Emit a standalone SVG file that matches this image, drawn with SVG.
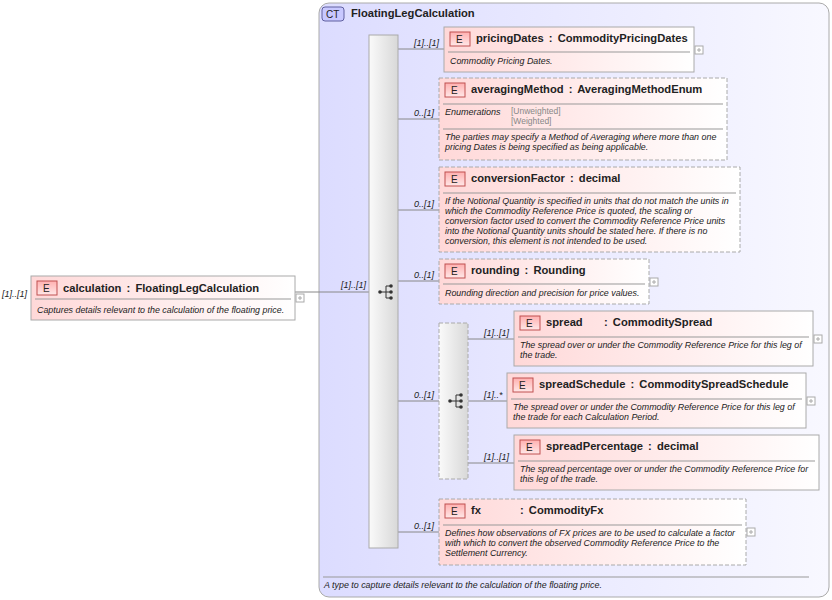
<svg xmlns="http://www.w3.org/2000/svg" width="832" height="600" viewBox="0 0 832 600">
<style>
text{font-family:"Liberation Sans",Arial,sans-serif;fill:#222}
.t{font-size:11.2px;font-weight:bold;word-spacing:2px}
.d{font-size:8.9px;font-style:italic}
.m{font-size:9px;font-style:italic}
.en{font-size:8.5px;fill:#888}
.box{fill:url(#eg);stroke:#aaa;stroke-width:1}
.dash{stroke-dasharray:4,2}
.sep{stroke:#999;stroke-width:1}
.ln{stroke:#888;stroke-width:1;fill:none}
.pl{fill:#fff;stroke:#aaa}
.eb{fill:url(#bg);stroke:#c05050}
.et{font-size:10px;fill:#222}
</style>
<defs>
<linearGradient id="eg" x1="0" y1="0" x2="1" y2="0"><stop offset="0" stop-color="#ffd8d8"/><stop offset="1" stop-color="#fff"/></linearGradient>
<linearGradient id="bg" x1="0" y1="0" x2="0" y2="1"><stop offset="0" stop-color="#ffb0b0"/><stop offset="1" stop-color="#ffe8e8"/></linearGradient>
<linearGradient id="ctg" x1="0" y1="0" x2="1" y2="0"><stop offset="0" stop-color="#dcdcff"/><stop offset="1" stop-color="#f8f8ff"/></linearGradient>
<linearGradient id="sg" x1="0" y1="0" x2="1" y2="0"><stop offset="0" stop-color="#fafafa"/><stop offset="1" stop-color="#d8d8d8"/></linearGradient>
<g id="seqi"><circle cx="-6" cy="0" r="1.8" fill="#333"/><path d="M-6 0H0M0 -6V6M0 -6H4M0 0H4M0 6H4" stroke="#333" fill="none"/><circle cx="5" cy="-6" r="1.8" fill="#333"/><circle cx="5" cy="0" r="1.8" fill="#333"/><circle cx="5" cy="6" r="1.8" fill="#333"/></g>
<g id="plus"><rect x="0" y="0" width="8" height="8" class="pl"/><path d="M2 4H6M4 2V6" stroke="#aaa"/></g>
</defs>
<rect width="832" height="600" fill="#fff"/>
<g id="ct">
<rect x="319" y="3" width="510" height="594" rx="10" fill="url(#ctg)" stroke="#aaa"/>
<rect x="322" y="7" width="22" height="14" rx="3" fill="#c8c8ff" stroke="#6060a0"/>
<text x="326" y="18" style="font-size:10px">CT</text>
<text x="351" y="17" class="t">FloatingLegCalculation</text>
<line x1="323" y1="577" x2="809" y2="577" class="sep"/>
<text x="324" y="588" class="d">A type to capture details relevant to the calculation of the floating price.</text>
</g>
<g id="connectors">
<path class="ln" d="M295 292H369M398 49H444M398 119H439M398 210H439M398 281H439M398 401H439M398 532H439M468 339H514M468 401H507M468 463H514"/>
<text x="2" y="297" class="m">[1]..[1]</text>
<text x="341" y="288" class="m">[1]..[1]</text>
<text x="414" y="46" class="m">[1]..[1]</text>
<text x="414" y="116" class="m">0..[1]</text>
<text x="414" y="207" class="m">0..[1]</text>
<text x="414" y="278" class="m">0..[1]</text>
<text x="414" y="398" class="m">0..[1]</text>
<text x="414" y="529" class="m">0..[1]</text>
<text x="484" y="336" class="m">[1]..[1]</text>
<text x="484" y="398" class="m">[1]..*</text>
<text x="484" y="460" class="m">[1]..[1]</text>
</g>
<g id="seq"><rect x="369" y="35" width="29" height="513" fill="url(#sg)" stroke="#aaa"/><use href="#seqi" x="386" y="292"/></g>
<g id="choice"><rect x="439" y="323" width="29" height="156" fill="url(#sg)" stroke="#aaa" class="dash"/><use href="#seqi" x="456" y="401"/></g>
<g id="calculation">
<rect x="31" y="276" width="264" height="44" class="box"/>
<rect x="37" y="281" width="20" height="14" class="eb"/><text x="43" y="292" class="et">E</text>
<text x="63" y="292" class="t">calculation : FloatingLegCalculation</text>
<line x1="35" y1="299" x2="291" y2="299" class="sep"/>
<text x="37" y="313" class="d">Captures details relevant to the calculation of the floating price.</text>
<use href="#plus" x="296" y="294"/>
</g>
<g id="pricingDates">
<rect x="444" y="27" width="250" height="45" class="box"/>
<rect x="450" y="32" width="20" height="14" class="eb"/><text x="456" y="43" class="et">E</text>
<text x="476" y="42" class="t">pricingDates : CommodityPricingDates</text>
<line x1="448" y1="52" x2="690" y2="52" class="sep"/>
<text x="450" y="64" class="d">Commodity Pricing Dates.</text>
<use href="#plus" x="695" y="46"/>
</g>
<g id="averagingMethod">
<rect x="439" y="78" width="288" height="82" class="box dash"/>
<rect x="445" y="83" width="20" height="14" class="eb"/><text x="451" y="94" class="et">E</text>
<text x="471" y="93" class="t">averagingMethod : AveragingMethodEnum</text>
<line x1="443" y1="104" x2="723" y2="104" class="sep"/>
<text x="445" y="115" class="m">Enumerations</text>
<text x="511" y="114" class="en">[Unweighted]</text>
<text x="511" y="124" class="en">[Weighted]</text>
<line x1="443" y1="129" x2="723" y2="129" class="sep"/>
<text x="445" y="140" class="d">The parties may specify a Method of Averaging where more than one</text>
<text x="445" y="150" class="d">pricing Dates is being specified as being applicable.</text>
</g>
<g id="conversionFactor">
<rect x="439" y="167" width="301" height="85" class="box dash"/>
<rect x="445" y="172" width="20" height="14" class="eb"/><text x="451" y="183" class="et">E</text>
<text x="471" y="182" class="t">conversionFactor : decimal</text>
<line x1="443" y1="193" x2="736" y2="193" class="sep"/>
<text x="445" y="204" class="d">If the Notional Quantity is specified in units that do not match the units in</text>
<text x="445" y="214" class="d">which the Commodity Reference Price is quoted, the scaling or</text>
<text x="445" y="224" class="d">conversion factor used to convert the Commodity Reference Price units</text>
<text x="445" y="234" class="d">into the Notional Quantity units should be stated here. If there is no</text>
<text x="445" y="244" class="d">conversion, this element is not intended to be used.</text>
</g>
<g id="rounding">
<rect x="439" y="259" width="210" height="45" class="box dash"/>
<rect x="445" y="264" width="20" height="14" class="eb"/><text x="451" y="275" class="et">E</text>
<text x="471" y="274" class="t">rounding : Rounding</text>
<line x1="443" y1="284" x2="645" y2="284" class="sep"/>
<text x="445" y="296" class="d">Rounding direction and precision for price values.</text>
<use href="#plus" x="650" y="278"/>
</g>
<g id="spread">
<rect x="514" y="311" width="299" height="55" class="box"/>
<rect x="520" y="316" width="20" height="14" class="eb"/><text x="526" y="327" class="et">E</text>
<text x="546" y="326" class="t">spread</text><text x="604" y="326" class="t">: CommoditySpread</text>
<line x1="518" y1="337" x2="809" y2="337" class="sep"/>
<text x="520" y="348" class="d">The spread over or under the Commodity Reference Price for this leg of</text>
<text x="520" y="358" class="d">the trade.</text>
<use href="#plus" x="814" y="335"/>
</g>
<g id="spreadSchedule">
<rect x="507" y="373" width="299" height="55" class="box"/>
<rect x="513" y="378" width="20" height="14" class="eb"/><text x="519" y="389" class="et">E</text>
<text x="539" y="388" class="t">spreadSchedule : CommoditySpreadSchedule</text>
<line x1="511" y1="399" x2="802" y2="399" class="sep"/>
<text x="513" y="410" class="d">The spread over or under the Commodity Reference Price for this leg of</text>
<text x="513" y="420" class="d">the trade for each Calculation Period.</text>
<use href="#plus" x="807" y="397"/>
</g>
<g id="spreadPercentage">
<rect x="514" y="435" width="305" height="55" class="box"/>
<rect x="520" y="440" width="20" height="14" class="eb"/><text x="526" y="451" class="et">E</text>
<text x="546" y="450" class="t">spreadPercentage : decimal</text>
<line x1="518" y1="461" x2="815" y2="461" class="sep"/>
<text x="520" y="472" class="d">The spread percentage over or under the Commodity Reference Price for</text>
<text x="520" y="482" class="d">this leg of the trade.</text>
</g>
<g id="fx">
<rect x="439" y="499" width="307" height="66" class="box dash"/>
<rect x="445" y="504" width="20" height="14" class="eb"/><text x="451" y="515" class="et">E</text>
<text x="471" y="514" class="t">fx</text><text x="520" y="514" class="t">: CommodityFx</text>
<line x1="443" y1="525" x2="742" y2="525" class="sep"/>
<text x="445" y="536" class="d">Defines how observations of FX prices are to be used to calculate a factor</text>
<text x="445" y="546" class="d">with which to convert the observed Commodity Reference Price to the</text>
<text x="445" y="556" class="d">Settlement Currency.</text>
<use href="#plus" x="747" y="528"/>
</g>
</svg>
